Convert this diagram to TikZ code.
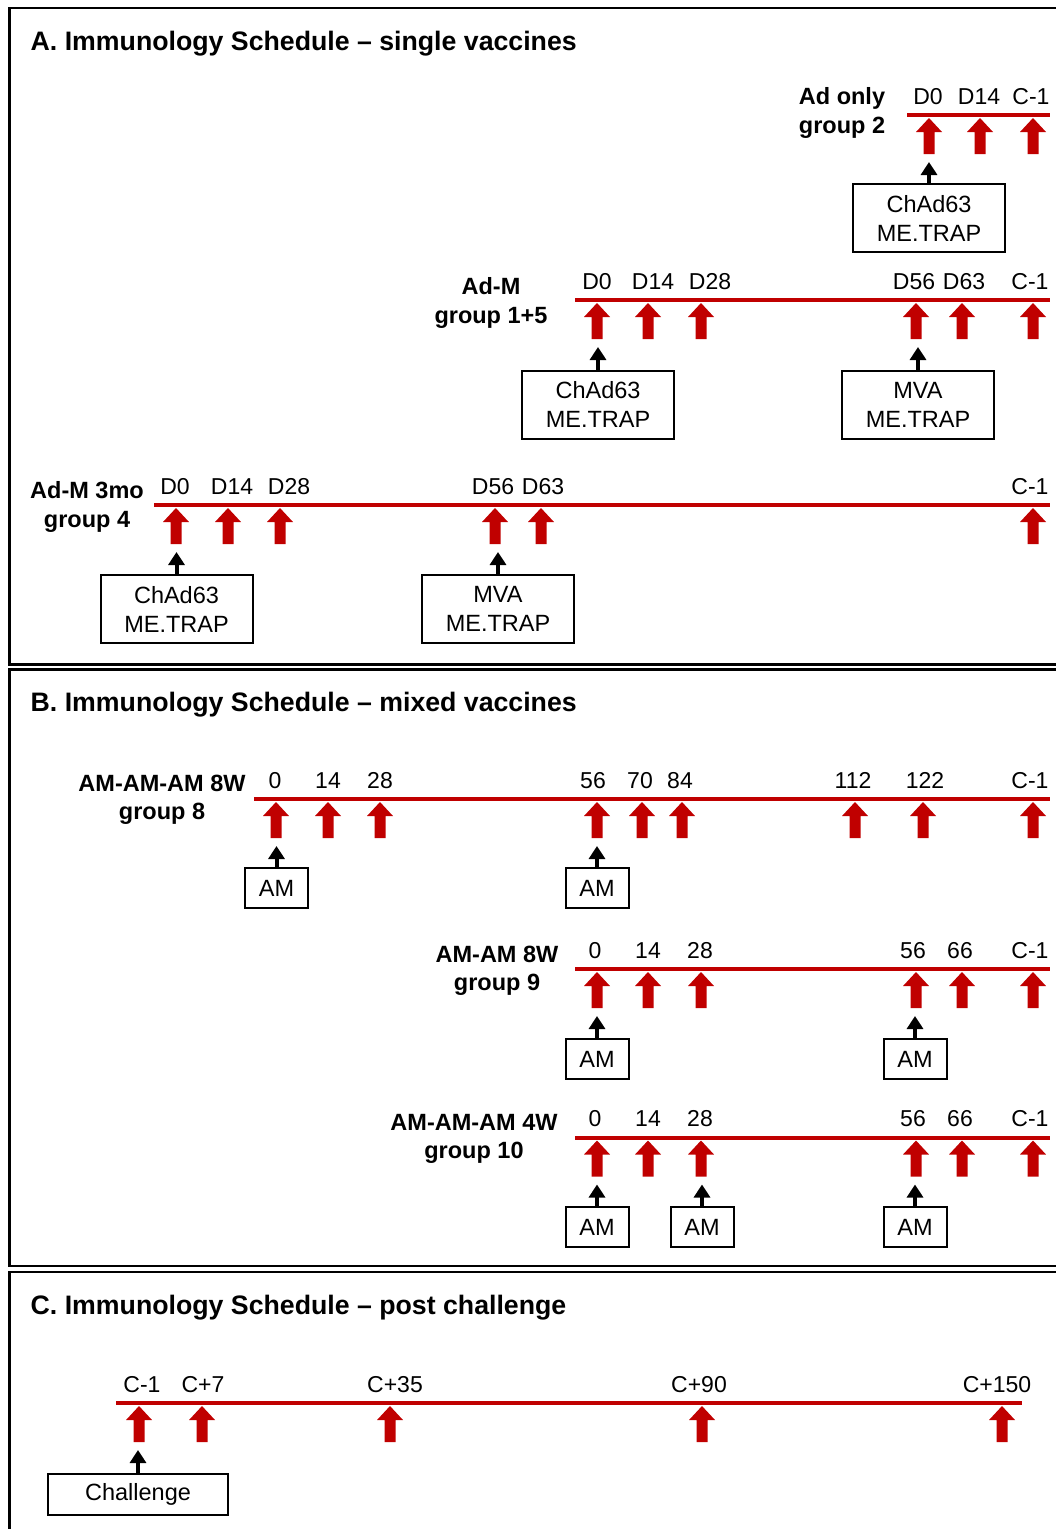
\documentclass[tikz,border=0pt]{standalone}
\usepackage{fontspec}
\setmainfont{Liberation Sans}
\usetikzlibrary{positioning, arrows.meta}

\definecolor{vred}{HTML}{C00000}

\tikzset{
  panel/.style={draw=black, line width=2.5pt},
  timeline/.style={draw=vred, line width=4pt},
  title/.style={font=\fontsize{26.7}{32}\selectfont\bfseries, anchor=base west, inner sep=0pt},
  day/.style={font=\fontsize{23}{28}\selectfont, anchor=base, inner sep=0pt},
  grp/.style={font=\fontsize{23.5}{28.5}\selectfont\bfseries, align=center, inner sep=0pt},
  vbox/.style={draw, line width=2pt, font=\fontsize{23.5}{29}\selectfont, align=center,
    minimum width=152pt, minimum height=68pt, inner sep=0pt},
  ambox/.style={vbox, minimum width=63pt, minimum height=40pt},
  give/.style={-{Triangle[width=16pt,length=13pt]}, line width=4pt},
  shot/.pic={
    \fill[vred] (0,3) -- (13,17) -- (5.5,17) -- (5.5,39) -- (-5.5,39) -- (-5.5,17) -- (-13,17) -- cycle;
    \coordinate (-tip) at (0,47);
  },
}

\begin{document}
\begin{tikzpicture}[x=1pt, y=-1pt]
  \useasboundingbox (0,0) rectangle (1056,1529);
  \clip (0,0) rectangle (1056,1529);

  % panels
  \draw[panel] (9.5,8) rectangle (1075,664.5);
  \draw[panel] (9.5,669.5) rectangle (1075,1266);
  \draw[panel] (9.5,1272) rectangle (1075,1545);
  \node[title] (titA) at (30.5,50) {A. Immunology Schedule – single vaccines};
  \node[title] (titB) at (30.5,711) {B. Immunology Schedule – mixed vaccines};
  \node[title] (titC) at (30.5,1314) {C. Immunology Schedule – post challenge};

  % A: Ad only
  \node[grp] (gA1) at (842,113) {Ad only\\group 2};
  \draw[timeline] (907,115) -- (1050,115);
  \foreach \x/\d [count=\i] in {928/D0, 979/D14, 1031/C-1}
    \node[day] (dA1\i) at (\x,104) {\d};
  \foreach \x [count=\i] in {929, 980, 1033}
    \pic (sA1\i) at (\x,115) {shot};
  \node[vbox] (bA11) at (929,218) {ChAd63\\ME.TRAP};
  \draw[give] (bA11) -- (sA11-tip);

  % A: Ad-M
  \node[grp] (gA2) at (491,303) {Ad-M\\group 1+5};
  \draw[timeline] (575,300) -- (1050,300);
  \foreach \x/\d [count=\i] in {597/D0, 653/D14, 710/D28, 914/D56, 964/D63, 1030/C-1}
    \node[day] (dA2\i) at (\x,289) {\d};
  \foreach \x [count=\i] in {597, 648, 701, 916, 962, 1033}
    \pic (sA2\i) at (\x,300) {shot};
  \node[vbox] (bA21) at (598,404.5) {ChAd63\\ME.TRAP};
  \node[vbox] (bA24) at (918,404.5) {MVA\\ME.TRAP};
  \draw[give] (bA21) -- (bA21 |- sA21-tip);
  \draw[give] (bA24) -- (bA24 |- sA24-tip);

  % A: Ad-M 3mo
  \node[grp] (gA3) at (87,507) {Ad-M 3mo\\group 4};
  \draw[timeline] (154,505) -- (1050,505);
  \foreach \x/\d [count=\i] in {175/D0, 232/D14, 289/D28, 493/D56, 543/D63, 1030/C-1}
    \node[day] (dA3\i) at (\x,494) {\d};
  \foreach \x [count=\i] in {176, 228, 280, 495, 541, 1033}
    \pic (sA3\i) at (\x,505) {shot};
  \node[vbox] (bA31) at (176.5,609) {ChAd63\\ME.TRAP};
  \node[vbox] (bA34) at (498,609) {MVA\\ME.TRAP};
  \draw[give] (bA31) -- (bA31 |- sA31-tip);
  \draw[give] (bA34) -- (bA34 |- sA34-tip);

  % B: AM-AM-AM 8W
  \node[grp] (gB1) at (162,800) {AM-AM-AM 8W\\group 8};
  \draw[timeline] (254,799) -- (1050,799);
  \foreach \x/\d [count=\i] in {275/0, 328/14, 380/28, 593/56, 640/70, 680/84, 853/112, 925/122, 1030/C-1}
    \node[day] (dB1\i) at (\x,788) {\d};
  \foreach \x [count=\i] in {276, 328, 380, 597, 642, 682, 855, 923, 1033}
    \pic (sB1\i) at (\x,799) {shot};
  \node[ambox] (bB11) at (276.5,888) {AM};
  \node[ambox] (bB14) at (597,888) {AM};
  \draw[give] (bB11) -- (bB11 |- sB11-tip);
  \draw[give] (bB14) -- (bB14 |- sB14-tip);

  % B: AM-AM 8W
  \node[grp] (gB2) at (497,971) {AM-AM 8W\\group 9};
  \draw[timeline] (575,969) -- (1050,969);
  \foreach \x/\d [count=\i] in {595/0, 648/14, 700/28, 913/56, 960/66, 1030/C-1}
    \node[day] (dB2\i) at (\x,958) {\d};
  \foreach \x [count=\i] in {597, 648, 701, 916, 962, 1033}
    \pic (sB2\i) at (\x,969) {shot};
  \node[ambox] (bB21) at (597,1059) {AM};
  \node[ambox] (bB24) at (915,1059) {AM};
  \draw[give] (bB21) -- (bB21 |- sB21-tip);
  \draw[give] (bB24) -- (bB24 |- sB24-tip);

  % B: AM-AM-AM 4W
  \node[grp] (gB3) at (474,1139) {AM-AM-AM 4W\\group 10};
  \draw[timeline] (575,1137.5) -- (1050,1137.5);
  \foreach \x/\d [count=\i] in {595/0, 648/14, 700/28, 913/56, 960/66, 1030/C-1}
    \node[day] (dB3\i) at (\x,1126) {\d};
  \foreach \x [count=\i] in {597, 648, 701, 916, 962, 1033}
    \pic (sB3\i) at (\x,1137.5) {shot};
  \node[ambox] (bB31) at (597,1227) {AM};
  \node[ambox] (bB33) at (702,1227) {AM};
  \node[ambox] (bB34) at (915,1227) {AM};
  \draw[give] (bB31) -- (bB31 |- sB31-tip);
  \draw[give] (bB33) -- (bB33 |- sB33-tip);
  \draw[give] (bB34) -- (bB34 |- sB34-tip);

  % C: post challenge
  \draw[timeline] (116,1403) -- (1022,1403);
  \foreach \x/\d [count=\i] in {142/C-1, 203/C+7, 395/C+35, 699/C+90, 997/C+150}
    \node[day] (dC\i) at (\x,1392) {\d};
  \foreach \x [count=\i] in {139, 202, 390, 702, 1002}
    \pic (sC\i) at (\x,1403) {shot};
  \node[vbox, minimum width=180pt, minimum height=41pt] (bC1) at (138,1494.5) {Challenge};
  \draw[give] (bC1) -- (bC1 |- sC1-tip);
\end{tikzpicture}
\end{document}
